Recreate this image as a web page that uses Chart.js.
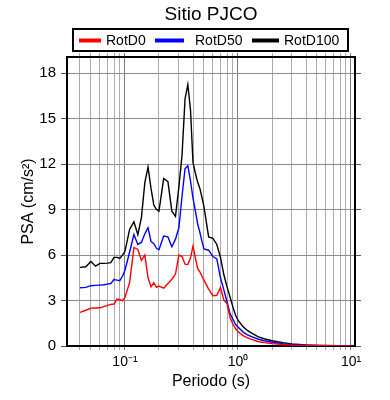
<!DOCTYPE html>
<html>
<head>
<meta charset="utf-8">
<script src="https://cdn.jsdelivr.net/npm/chart.js@4/dist/chart.umd.min.js"></script>
<style>
body{margin:0;background:#fff}
canvas{display:block}
</style>
</head>
<body>
<canvas id="psa" width="390" height="400"></canvas>
<script>
"use strict"
const titulo = 'Sitio PJCO'
const periodos = [0.04,0.045,0.05,0.055,0.06,0.065,0.07,0.075,0.08,0.085,0.09,0.095,
	0.1,0.11,0.12,0.13,0.14,0.15,0.16,0.17,0.18,0.19,
	0.2,0.22,0.24,0.26,0.28,0.3,0.32,0.34,0.36,0.38,
	0.4,0.42,0.44,0.46,0.48,0.5,
	0.55,0.6,0.65,0.7,0.75,0.8,0.85,0.9,0.95,
	1,1.1,1.2,1.3,1.5,1.7,
	2,2.5,3,4,5,6,7.5,10]
const rotD0 = [2.22,2.36,2.5,2.51,2.52,2.6,2.68,2.75,2.77,3.1,3.05,2.99,
	3.21,4.2,6.5,6.37,5.65,6.0,4.5,3.91,4.17,3.87,
	3.95,3.82,4.13,4.4,4.75,6.0,5.9,5.4,5.38,5.8,
	6.6,5.8,5.1,4.9,4.6,4.35,
	3.75,3.32,3.35,3.87,3.03,2.8,1.9,1.45,1.15,
	0.95,0.7,0.55,0.45,0.3,0.22,
	0.16,0.1,0.06,0.03,0.02,0.015,0.01,0.005]
const rotD50 = [3.84,3.87,3.98,4.0,4.02,4.04,4.08,4.12,4.38,4.35,4.31,4.6,
	5.0,6.2,7.36,6.7,6.85,7.4,7.8,6.9,6.75,6.45,
	6.35,7.25,7.2,6.55,7.05,7.8,9.9,11.7,11.9,10.9,
	9.75,8.9,8.05,7.5,6.9,6.4,
	6.32,5.9,5.75,4.5,3.7,2.9,2.15,1.78,1.43,
	1.25,0.95,0.75,0.63,0.46,0.35,
	0.25,0.15,0.1,0.05,0.03,0.02,0.015,0.01]
const rotD100 = [5.19,5.23,5.58,5.27,5.45,5.45,5.47,5.5,5.85,5.85,5.78,6.0,
	6.25,7.7,8.2,7.35,8.5,10.8,11.8,10.4,9.3,9.0,
	8.9,11.05,10.85,8.9,8.55,10.5,12.6,16.3,17.25,15.6,
	12.1,11.4,10.8,10.4,9.8,9.2,
	7.2,7.1,6.7,5.85,4.7,3.9,3.25,2.6,2.05,
	1.7,1.3,1.05,0.88,0.62,0.48,
	0.35,0.22,0.14,0.07,0.04,0.03,0.02,0.01]
const series = ['RotD0','RotD50','RotD100']
const colores = ['#ff0000','#0000ff','#000000']
const xMayor = [0.1,1,10]
const xMayorTxt = ['10⁻¹','10⁰','10¹']
const xMenor = [0.04,0.05,0.06,0.07,0.08,0.09,0.2,0.3,0.4,0.5,0.6,0.7,0.8,0.9,2,3,4,5,6,7,8,9]
const yTicks = [0,3,6,9,12,15,18]
const xTitulo = 'Periodo (s)'
const yTitulo = 'PSA (cm/s²)'

const fuente = '"Liberation Sans", Arial, sans-serif'
const xTodos = xMenor.concat(xMayor).sort((a,b)=>a-b)

let ticksX = scale=>{
	scale.ticks = xTodos.map(v=>({value:v, major:xMayor.includes(v)}))
}
let ticksY = scale=>{
	scale.ticks = yTicks.map(v=>({value:v}))
}
let colorX = c=> c.tick && xMayor.includes(c.tick.value) ? '#7a7a7a' : '#ababab'

// titulo y leyenda con recuadro
const leyenda = {
	id:'leyenda',
	afterDraw(chart){
		const ctx = chart.ctx
		const area = chart.chartArea
		ctx.save()
		ctx.fillStyle = '#000'
		ctx.font = '19px ' + fuente
		ctx.textAlign = 'center'
		ctx.textBaseline = 'alphabetic'
		ctx.fillText(titulo, (area.left+area.right)/2, 20)
		ctx.lineWidth = 2
		ctx.strokeStyle = '#000'
		ctx.strokeRect(73, 29, 275, 22)
		const pos = [[79,101,106],[155,184,195],[252,279,284]]
		ctx.font = '14px ' + fuente
		ctx.textAlign = 'left'
		chart.data.datasets.forEach((d,i)=>{
			ctx.strokeStyle = d.borderColor
			ctx.lineWidth = 4
			ctx.beginPath()
			ctx.moveTo(pos[i][0], 40.5)
			ctx.lineTo(pos[i][1], 40.5)
			ctx.stroke()
			ctx.fillText(d.label, pos[i][2], 45)
		})
		ctx.restore()
	}
}

new Chart(document.getElementById('psa'), {
	type:'line',
	data:{
		datasets: series.map((s,i)=>({
			label:s,
			data: periodos.map((p,j)=>({x:p, y:[rotD0,rotD50,rotD100][i][j]})),
			borderColor: colores[i],
			borderWidth: 1.4,
			pointRadius: 0,
			tension: 0,
			fill: false
		}))
	},
	options:{
		responsive:false,
		animation:false,
		devicePixelRatio:1,
		layout:{padding:{top:51, right:29, left:0, bottom:0}},
		plugins:{legend:{display:false}, title:{display:false}, tooltip:{enabled:false}},
		scales:{
			x:{
				type:'logarithmic', position:'bottom', min:0.0307, max:10.85,
				afterBuildTicks: ticksX,
				afterFit: s=>{ s.height = 54 },
				grid:{color:colorX, tickColor:colorX, tickLength:4},
				border:{display:true, color:'#000', width:2},
				ticks:{autoSkip:false, maxRotation:0, padding:4, color:'#000', font:{family:fuente, size:14},
					callback: v=>{ const k = xMayor.indexOf(v); return k>=0 ? xMayorTxt[k] : '' }},
				title:{display:true, text:xTitulo, color:'#000', font:{family:fuente, size:16}, padding:{top:0, bottom:9}}
			},
			x2:{
				type:'logarithmic', position:'top', min:0.0307, max:10.85,
				afterBuildTicks: ticksX,
				afterFit: s=>{ s.height = 6 },
				grid:{drawOnChartArea:false, color:colorX, tickColor:colorX, tickLength:4},
				border:{display:true, color:'#000', width:2},
				ticks:{display:false}
			},
			y:{
				type:'linear', position:'left', min:0, max:19.07,
				afterBuildTicks: ticksY,
				afterFit: s=>{ s.width = 67 },
				grid:{color:'#8c8c8c', tickColor:'#555', tickLength:6},
				border:{display:true, color:'#000', width:2},
				ticks:{padding:5, color:'#000', font:{family:fuente, size:15}},
				title:{display:true, text:yTitulo, color:'#000', font:{family:fuente, size:16}, padding:{top:19, bottom:0}}
			},
			y2:{
				type:'linear', position:'right', min:0, max:19.07,
				afterBuildTicks: ticksY,
				afterFit: s=>{ s.width = 6 },
				grid:{drawOnChartArea:false, tickColor:'#555', tickLength:6},
				border:{display:true, color:'#000', width:2},
				ticks:{display:false}
			}
		}
	},
	plugins:[leyenda]
})
</script>
</body>
</html>
